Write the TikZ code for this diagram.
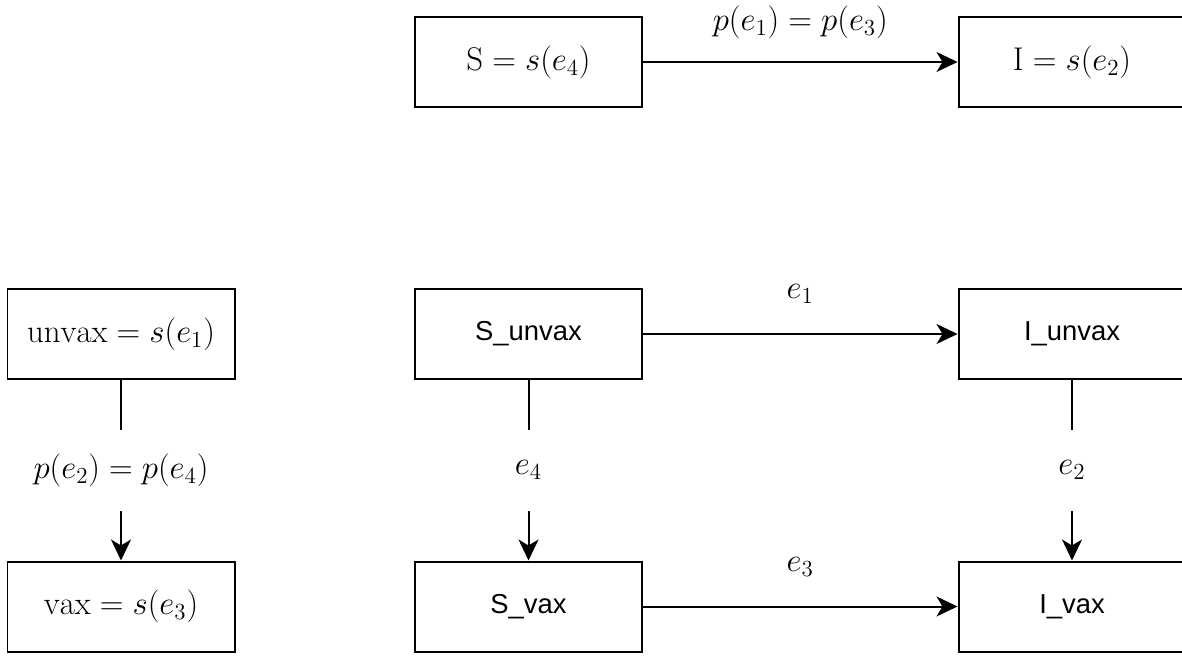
\RequirePackage{fix-cm}
\documentclass[tikz,border=0pt]{standalone}
\usepackage{fontspec}
\newfontfamily\labelsans{Liberation Sans}
\usetikzlibrary{arrows.meta}
\tikzset{
	cell/.style={draw, line width=0.04cm, minimum width=4.54cm, minimum height=1.8cm, inner sep=0pt, font=\fontsize{18.7}{22}\selectfont},
	sanscell/.style={cell, font=\fontsize{15.6}{19}\selectfont\labelsans},
	flow/.style={line width=0.04cm, -{Stealth[length=0.42cm, width=0.4cm, inset=0.12cm]}},
	gaplabel/.style={fill=white, minimum height=1.62cm, inner sep=1pt, font=\fontsize{18.7}{22}\selectfont},
	ratelabel/.style={midway, yshift=0.8cm, font=\fontsize{18.7}{22}\selectfont}
}

\begin{document}
\begin{tikzpicture}
			%%%%% START %%%%%
			
			\useasboundingbox (0, 0) rectangle (23.64, 13.1);
			\clip (0, 0) rectangle (23.64, 13.1);
			\fill[white] (0, 0) rectangle (23.64, 13.1);
			
			\node[cell] (s_box) at (10.57, 11.86) {$\mathrm{S} = s(e_4)$};
			\node[cell] (i_box) at (21.44, 11.86) {$\mathrm{I} = s(e_2)$};
			
			\node[cell] (unvax_box) at (2.42, 6.42) {$\mathrm{unvax} = s(e_1)$};
			\node[cell] (vax_box) at (2.42, 0.97) {$\mathrm{vax} = s(e_3)$};
			
			\node[sanscell] (s_unvax) at (10.57, 6.42) {S\_unvax};
			\node[sanscell] (i_unvax) at (21.44, 6.42) {I\_unvax};
			\node[sanscell] (s_vax) at (10.57, 0.97) {S\_vax};
			\node[sanscell] (i_vax) at (21.44, 0.97) {I\_vax};
			
			\draw[flow] (s_box) -- node[ratelabel] {$p(e_1) = p(e_3)$} (i_box);
			\draw[flow] (s_unvax) -- node[ratelabel] {$e_1$} (i_unvax);
			\draw[flow] (s_vax) -- node[ratelabel] {$e_3$} (i_vax);
			
			\draw[flow] (unvax_box) -- node[gaplabel] {$p(e_2) = p(e_4)$} (vax_box);
			\draw[flow] (s_unvax) -- node[gaplabel] {$e_4$} (s_vax);
			\draw[flow] (i_unvax) -- node[gaplabel] {$e_2$} (i_vax);
			
			%%%%% END %%%%%
		\end{tikzpicture}
\end{document}
